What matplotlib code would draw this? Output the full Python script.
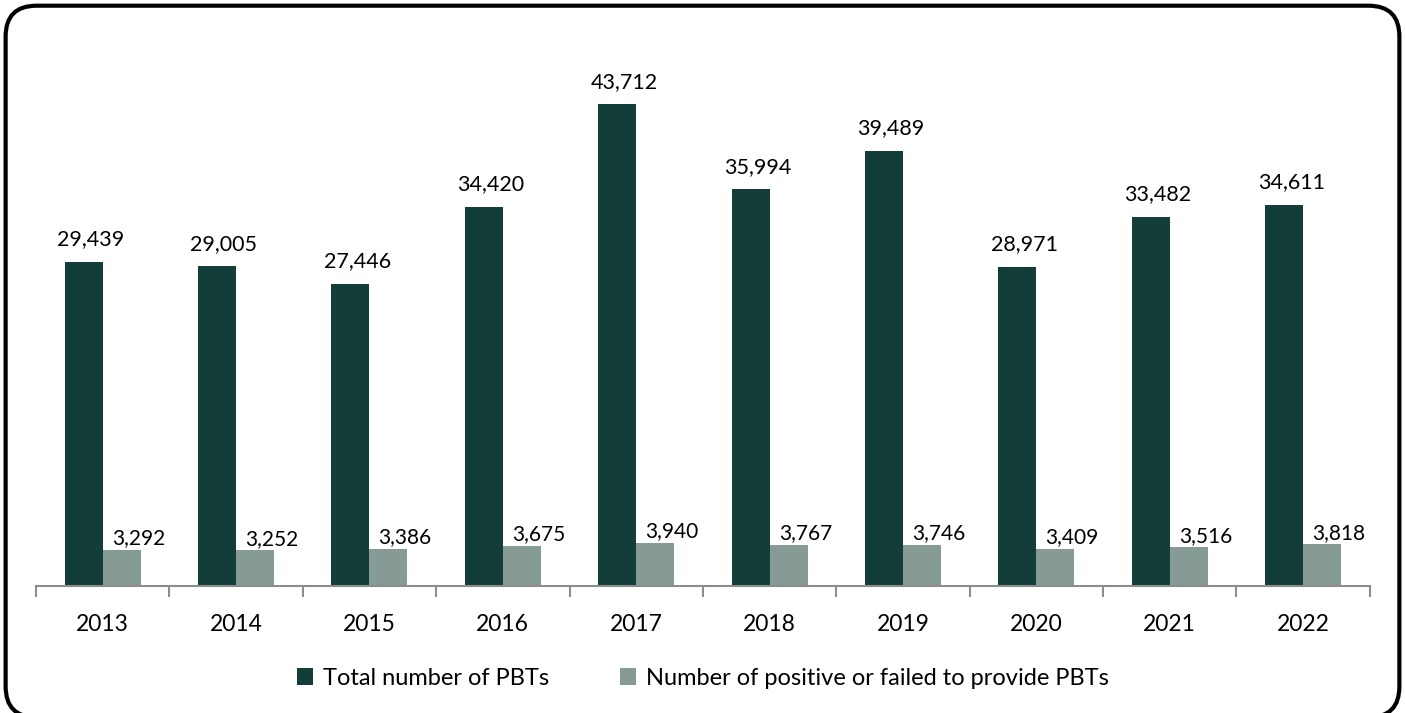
import numpy as np
import matplotlib.pyplot as plt
from matplotlib.patches import FancyBboxPatch

#Data
years = ["2013", "2014", "2015", "2016", "2017", "2018", "2019", "2020", "2021", "2022"]
totalPBTs = [29439, 29005, 27446, 34420, 43712, 35994, 39489, 28971, 33482, 34611]
positivePBTs = [3292, 3252, 3386, 3675, 3940, 3767, 3746, 3409, 3516, 3818]

darkColor = "#133d38"
lightColor = "#879b96"

plt.rcParams['font.family'] = ['Lato', 'DejaVu Sans']

fig = plt.figure(figsize=(14.05, 7.13), dpi=100)
ax = fig.add_axes([0.0256, 0.178, 0.9494, 0.773])

x = np.arange(len(years))
w = 0.285
bars1 = ax.bar(x - w/2, totalPBTs, w, color=darkColor, label="Total number of PBTs")
bars2 = ax.bar(x + w/2, positivePBTs, w, color=lightColor, label="Number of positive or failed to provide PBTs")

#Value labels
for b, v in zip(bars1, totalPBTs):
    ax.annotate(f"{v:,}", (b.get_x() + b.get_width()/2, v), xytext=(5, 9),
                textcoords="offset points", ha="center", va="bottom", fontsize=15.5)
for b, v in zip(bars2, positivePBTs):
    ax.annotate(f"{v:,}", (b.get_x() + b.get_width()/2, v), xytext=(12, 1),
                textcoords="offset points", ha="center", va="bottom", fontsize=15)

ax.set_xlim(-0.5, len(years) - 0.5)
ax.set_ylim(0, 50000)
ax.set_xticks(x)
ax.set_xticklabels(years, fontsize=16.5)
ax.set_xticks(np.arange(len(years) + 1) - 0.5, minor=True)
ax.tick_params(axis="x", which="major", length=0, pad=20)
ax.tick_params(axis="x", which="minor", length=8, width=1.5, color="#8c8c8c")
ax.set_yticks([])
for s in ["top", "right", "left"]:
    ax.spines[s].set_visible(False)
ax.spines["bottom"].set_color("#8c8c8c")
ax.spines["bottom"].set_linewidth(1.5)

fig.legend(loc="center", bbox_to_anchor=(0.5, 0.049), ncol=2, frameon=False,
           fontsize=17, handlelength=0.7, handleheight=0.7, handletextpad=0.4,
           columnspacing=3.0)

#Rounded border round the whole figure, bottom edge runs off the picture
border = FancyBboxPatch((0.004, -0.006), 0.992, 0.998, boxstyle="round,pad=0,rounding_size=0.022",
                        transform=fig.transFigure, fill=False, edgecolor="black", linewidth=3,
                        mutation_aspect=1405/713)
fig.patches.append(border)

fig.savefig("out.png", dpi=100)
